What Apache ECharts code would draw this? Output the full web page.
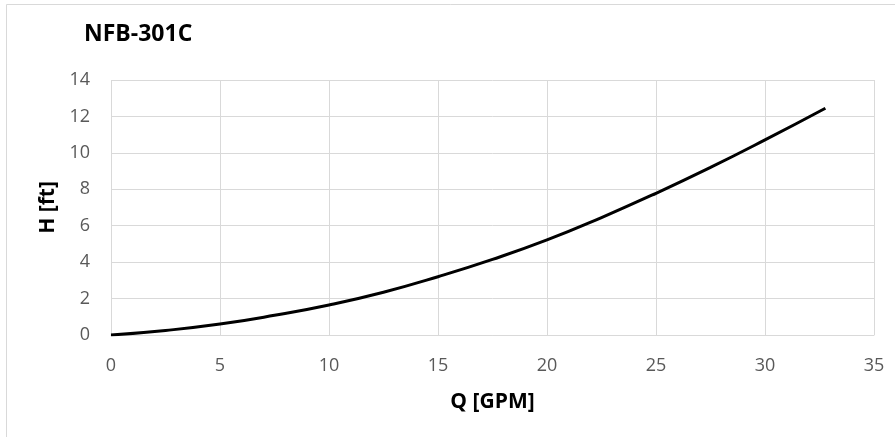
<!DOCTYPE html>
<html>
<head>
<meta charset="utf-8">
<script src="https://cdn.jsdelivr.net/npm/echarts@6/dist/echarts.min.js"></script>
<style>
html,body{margin:0;padding:0;background:#fff;}
#chart{width:895px;height:437px;}
</style>
</head>
<body>
<div id="chart"></div>
<script>
const chartTitle = 'NFB-301C';
const xAxisName = 'Q [GPM]';
const yAxisName = 'H [ft]';
const flowQ = [0, 2.5, 5, 7.5, 10, 12.5, 15, 17.5, 20, 22.5, 25, 27.5, 30, 32.77];
const headH = [0, 0.25, 0.6, 1.08, 1.65, 2.35, 3.2, 4.15, 5.22, 6.45, 7.78, 9.2, 10.71, 12.45];
const xTicks = {min: 0, max: 35, interval: 5};
const yTicks = {min: 0, max: 14, interval: 2};

const font = '"Open Sans", sans-serif';
const chart = echarts.init(document.getElementById('chart'), null, {renderer: 'canvas'});
chart.setOption({
  animation: false,
  backgroundColor: '#fff',
  title: {
    text: chartTitle,
    left: 79,
    top: 18,
    textStyle: {fontFamily: font, fontWeight: 'bold', fontSize: 23, color: '#000'}
  },
  graphic: [
    {type: 'line', shape: {x1: 6.5, y1: 4.5, x2: 895, y2: 4.5}, style: {stroke: '#d9d9d9', lineWidth: 1}},
    {type: 'line', shape: {x1: 6.5, y1: 4.5, x2: 6.5, y2: 437}, style: {stroke: '#d9d9d9', lineWidth: 1}}
  ],
  grid: {left: 111, right: 21, top: 80, bottom: 102, containLabel: false},
  xAxis: {
    type: 'value',
    min: xTicks.min, max: xTicks.max, interval: xTicks.interval,
    name: xAxisName,
    nameLocation: 'middle',
    nameGap: 57,
    nameTextStyle: {fontFamily: font, fontWeight: 'bold', fontSize: 21, color: '#000'},
    axisLine: {show: true, lineStyle: {color: '#d9d9d9', width: 1}},
    axisTick: {show: false},
    splitLine: {show: true, lineStyle: {color: '#d9d9d9', width: 1}},
    axisLabel: {fontFamily: font, fontSize: 18, color: '#595959', margin: 22}
  },
  yAxis: {
    type: 'value',
    min: yTicks.min, max: yTicks.max, interval: yTicks.interval,
    name: yAxisName,
    nameLocation: 'middle',
    nameGap: 52,
    nameRotate: 90,
    nameTextStyle: {fontFamily: font, fontWeight: 'bold', fontSize: 21, color: '#000'},
    axisLine: {show: false},
    axisTick: {show: false},
    splitLine: {show: true, lineStyle: {color: '#d9d9d9', width: 1}},
    axisLabel: {fontFamily: font, fontSize: 18, color: '#595959', margin: 21}
  },
  series: [{
    type: 'line',
    data: flowQ.map((q, i) => [q, headH[i]]),
    smooth: true,
    showSymbol: false,
    lineStyle: {color: '#000', width: 3},
    z: 5
  }]
});
</script>
</body>
</html>
